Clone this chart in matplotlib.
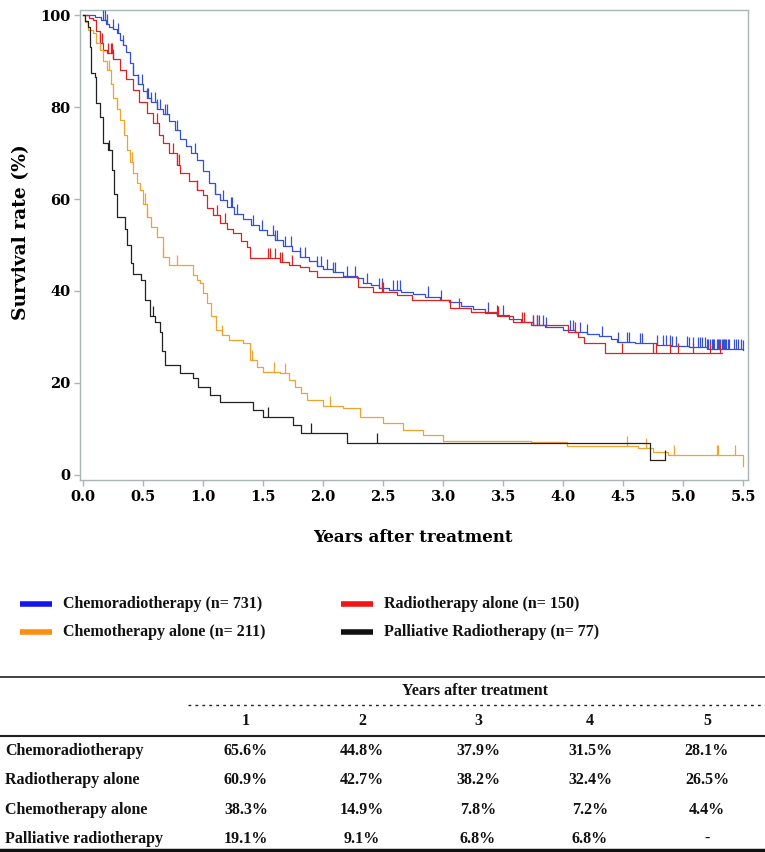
import numpy as np
import matplotlib
matplotlib.use("Agg")
import matplotlib.pyplot as plt

# Kaplan-Meier step curves (years, survival %)
crt_t = [0, 0.1, 0.15, 0.19, 0.22, 0.25, 0.28, 0.31, 0.33, 0.36, 0.39, 0.42, 0.46, 0.5, 0.53, 0.57,
         0.62, 0.67, 0.72, 0.77, 0.81, 0.86, 0.9, 0.95, 1.0, 1.05, 1.1, 1.14, 1.2, 1.26, 1.33, 1.4,
         1.47, 1.53, 1.6, 1.67, 1.74, 1.81, 1.88, 1.95, 2.0, 2.08, 2.17, 2.28, 2.33, 2.4, 2.47, 2.55,
         2.65, 2.75, 2.85, 2.97, 3.05, 3.15, 3.25, 3.35, 3.45, 3.55, 3.65, 3.75, 3.85, 4.0, 4.1, 4.2,
         4.3, 4.4, 4.45, 4.6, 4.78, 4.9, 5.05, 5.2, 5.5]
crt_s = [100, 99.5, 99, 98, 97.5, 97, 96, 94.5, 93.5, 92, 89.5, 87, 85, 83.5, 82, 81,
         79.5, 78.5, 77, 75, 73, 71.5, 70, 68.5, 66, 63.5, 61, 59.8, 58.3, 56.8, 55.7, 54.3,
         53.2, 52.2, 51, 49.8, 48.7, 47.4, 46.5, 45.5, 44.8, 44.1, 43.3, 42.8, 41.7, 41.3, 40.6, 40.2,
         39.8, 39.4, 38.8, 38.0, 37.6, 36.8, 36.1, 35.3, 34.7, 33.9, 33.3, 32.6, 32.2, 31.5, 31.1, 30.6,
         30.2, 29.6, 28.9, 28.6, 28.3, 28.1, 27.8, 27.4, 27.2]
crt_cens = [0.17, 0.18, 0.2, 0.25, 0.29, 0.33, 0.42, 0.46, 0.49, 0.53, 0.54, 0.57, 0.6, 0.62, 0.64,
            0.68, 0.7, 0.78, 0.93, 1.1, 1.17, 1.23, 1.24, 1.28, 1.42, 1.49, 1.58, 1.6, 1.62, 1.68,
            1.73, 1.81, 1.85, 1.95, 1.98, 2.03, 2.08, 2.1, 2.2, 2.27, 2.37, 2.47, 2.49, 2.58, 2.62,
            2.64, 2.87, 2.98, 3.37, 3.45, 3.5, 3.75, 3.78, 3.8, 3.83, 3.86, 4.06, 4.08, 4.14, 4.2,
            4.32, 4.46, 4.53, 4.55, 4.64, 4.66, 4.78, 4.83, 4.86, 4.89, 4.91, 4.94, 5.03, 5.05, 5.08,
            5.12, 5.14, 5.16, 5.18, 5.2, 5.21, 5.22, 5.24, 5.25, 5.26, 5.28, 5.29, 5.3, 5.31, 5.32,
            5.33, 5.34, 5.35, 5.36, 5.37, 5.38, 5.42, 5.44, 5.46, 5.48, 5.5]

rt_t = [0, 0.05, 0.08, 0.11, 0.14, 0.17, 0.2, 0.25, 0.31, 0.36, 0.42, 0.47, 0.53, 0.58, 0.63, 0.67,
        0.72, 0.78, 0.81, 0.88, 0.95, 1.0, 1.03, 1.08, 1.14, 1.2, 1.25, 1.32, 1.37, 1.39, 1.64, 1.72,
        1.81, 1.88, 1.95, 2.29, 2.42, 2.62, 2.74, 3.06, 3.23, 3.45, 3.58, 3.73, 4.04, 4.12, 4.17,
        4.35, 4.37, 5.32]
rt_s = [100, 99.3, 98.9, 96.5, 93.9, 92.5, 91.7, 90.5, 88, 86, 83.7, 81, 78.7, 76.5, 74, 72.2,
        70, 67.5, 65.6, 64, 62, 60.9, 58, 56.5, 54.8, 53.5, 52.6, 50.8, 49.6, 47.2, 46.3, 45.7,
        45.2, 44.3, 43.0, 40.9, 39.8, 39.1, 38.0, 36.3, 35.4, 34.6, 33.3, 32.6, 31.1, 30.0, 28.7,
        26.5, 26.5, 26.5]
rt_cens = [0.14, 0.16, 0.21, 0.23, 0.24, 0.25, 0.62, 0.75, 0.78, 0.8, 0.95, 1.12, 1.18, 1.54,
           1.56, 1.6, 1.64, 1.66, 1.74, 2.49, 2.5, 3.13, 3.46, 3.66, 3.67, 3.75, 3.78, 4.1, 4.49,
           4.75, 4.77, 4.89, 4.96, 5.08, 5.22, 5.31]

ct_t = [0, 0.02, 0.04, 0.08, 0.11, 0.14, 0.17, 0.2, 0.23, 0.25, 0.28, 0.31, 0.34, 0.37, 0.39,
        0.42, 0.45, 0.475, 0.5, 0.53, 0.57, 0.62, 0.67, 0.72, 0.92, 0.95, 0.975, 1.0, 1.03, 1.07,
        1.11, 1.16, 1.22, 1.33, 1.39, 1.45, 1.5, 1.64, 1.72, 1.77, 1.82, 1.87, 2.0, 2.17, 2.31,
        2.5, 2.67, 2.83, 3.0, 3.73, 4.03, 4.62, 4.75, 4.87, 5.5]
ct_s = [100, 98.5, 96.7, 96, 94, 92.4, 90, 88, 85, 82, 79.5, 77.2, 74, 70.7, 68,
        65.6, 63.5, 62, 59, 56.1, 54, 51.7, 47.4, 45.7, 43.5, 42.4, 41.7, 39.5, 37.4, 34.5,
        31.5, 30.5, 29.3, 28.7, 25, 23.5, 22.4, 22.2, 20.6, 19.2, 17.8, 16.3, 15.0, 14.6, 12.6,
        11.3, 9.8, 8.7, 7.4, 7.2, 6.3, 5.9, 5.0, 4.3, 2.0]
ct_cens = [0.22, 0.28, 0.41, 0.52, 0.53, 0.67, 0.78, 1.16, 1.41, 1.59, 1.68, 2.06, 4.53, 4.69,
           4.92, 5.28, 5.29, 5.43]

prt_t = [0, 0.02, 0.04, 0.06, 0.07, 0.1, 0.11, 0.14, 0.17, 0.21, 0.24, 0.26, 0.28, 0.35, 0.37,
         0.4, 0.42, 0.48, 0.52, 0.56, 0.6, 0.64, 0.66, 0.68, 0.81, 0.92, 0.96, 1.06, 1.14, 1.42,
         1.5, 1.75, 1.82, 2.2, 4.72, 4.85]
prt_s = [100, 98.7, 97.4, 93, 87.4, 86.5, 80.9, 77.8, 72.2, 70.7, 66.3, 61, 56.1, 53.5, 50,
         46, 43.6, 42.4, 38, 34.5, 33.3, 31, 27, 23.9, 22.2, 21.1, 19.1, 17.4, 15.9, 14.1,
         12.6, 10.9, 9.1, 7.0, 3.3, 3.3]
prt_cens = [0.22, 0.58, 1.54, 1.9, 2.45, 4.85]

groups = ["Chemoradiotherapy (n= 731)", "Radiotherapy alone (n= 150)",
          "Chemotherapy alone (n= 211)", "Palliative Radiotherapy (n= 77)"]

# table below the chart
tab_years = ["1", "2", "3", "4", "5"]
tab_rows = ["Chemoradiotherapy", "Radiotherapy alone", "Chemotherapy alone", "Palliative radiotherapy"]
tab_vals = [["65.6%", "44.8%", "37.9%", "31.5%", "28.1%"],
            ["60.9%", "42.7%", "38.2%", "32.4%", "26.5%"],
            ["38.3%", "14.9%", "7.8%", "7.2%", "4.4%"],
            ["19.1%", "9.1%", "6.8%", "6.8%", "-"]]

line_cols = ["#3550d8", "#dd2222", "#f0a430", "#222222"]
leg_cols = ["#1414f0", "#f01414", "#ff8c14", "#111111"]

fig = plt.figure(figsize=(7.65, 8.52), dpi=100)
ax = fig.add_axes([80 / 765, 1 - 480 / 852, 668 / 765, 470 / 852])

curves = [(crt_t, crt_s, crt_cens), (rt_t, rt_s, rt_cens),
          (ct_t, ct_s, ct_cens), (prt_t, prt_s, prt_cens)]
for (t, s, cens), col in zip(curves, line_cols):
    t = np.array(t)
    s = np.array(s)
    ax.step(t, s, where="post", color=col, lw=0.9, zorder=3)
    c = np.array(cens)
    cy = s[np.searchsorted(t, c, side="right") - 1]
    ax.vlines(c, cy, cy + 2.2, color=col, lw=0.9, zorder=3)

ax.set_xlim(-0.025, 5.54)
ax.set_ylim(-1.1, 101.1)
ax.set_xticks(np.arange(0, 5.6, 0.5))
ax.set_xticklabels([f"{v:.1f}" for v in np.arange(0, 5.6, 0.5)])
ax.set_yticks([0, 20, 40, 60, 80, 100])
for sp in ax.spines.values():
    sp.set_color("#a8b6b6")
    sp.set_linewidth(1.0)
ax.tick_params(direction="out", length=4, width=1, color="#a8b6b6", pad=3)
for lab in ax.get_xticklabels() + ax.get_yticklabels():
    lab.set_fontfamily("DejaVu Serif")
    lab.set_fontweight("bold")
    lab.set_fontsize(10.5)
ax.set_xlabel("Years after treatment", fontfamily="DejaVu Serif", fontweight="bold", fontsize=12)
ax.xaxis.set_label_coords(0.4985, -0.105)
ax.set_ylabel("Survival rate (%)", fontfamily="DejaVu Serif", fontweight="bold", fontsize=13.5)
ax.yaxis.set_label_coords(-0.075, 0.528)

# legend + table drawn in pixel coordinates
bx = fig.add_axes([0, 0, 1, 1], zorder=-1)
bx.set_xlim(0, 765)
bx.set_ylim(852, 0)
bx.axis("off")
tf = dict(fontfamily="Liberation Serif", fontweight="bold", fontsize=11.5, color="#111111")

leg_pos = [(20, 604), (341, 604), (20, 632), (341, 632)]
for (lx, ly), name, col in zip(leg_pos, groups, leg_cols):
    bx.plot([lx, lx + 32], [ly, ly], color=col, lw=4, solid_capstyle="butt")
    bx.text(lx + 43, ly, name, va="center", ha="left", **tf)

bx.plot([0, 765], [677, 677], color="#222222", lw=1.2)
bx.text(475, 691, "Years after treatment", ha="center", va="center", **tf)
bx.plot([188, 765], [705, 705], color="#222222", lw=1.0, ls=(0, (2, 3)))
col_x = [246, 362, 478, 590, 707]
for x, yr in zip(col_x, tab_years):
    bx.text(x, 721, yr, ha="center", va="center", **tf)
bx.plot([0, 765], [736, 736], color="#222222", lw=1.5)
row_y = [751, 780, 810, 839]
for y, name, vals in zip(row_y, tab_rows, tab_vals):
    bx.text(5, y, name, ha="left", va="center", **tf)
    for x, v in zip(col_x, vals):
        bx.text(x, y, v, ha="center", va="center", **tf)
bx.plot([0, 765], [850, 850], color="#111111", lw=2.5)

fig.savefig("out.png", dpi=100)
